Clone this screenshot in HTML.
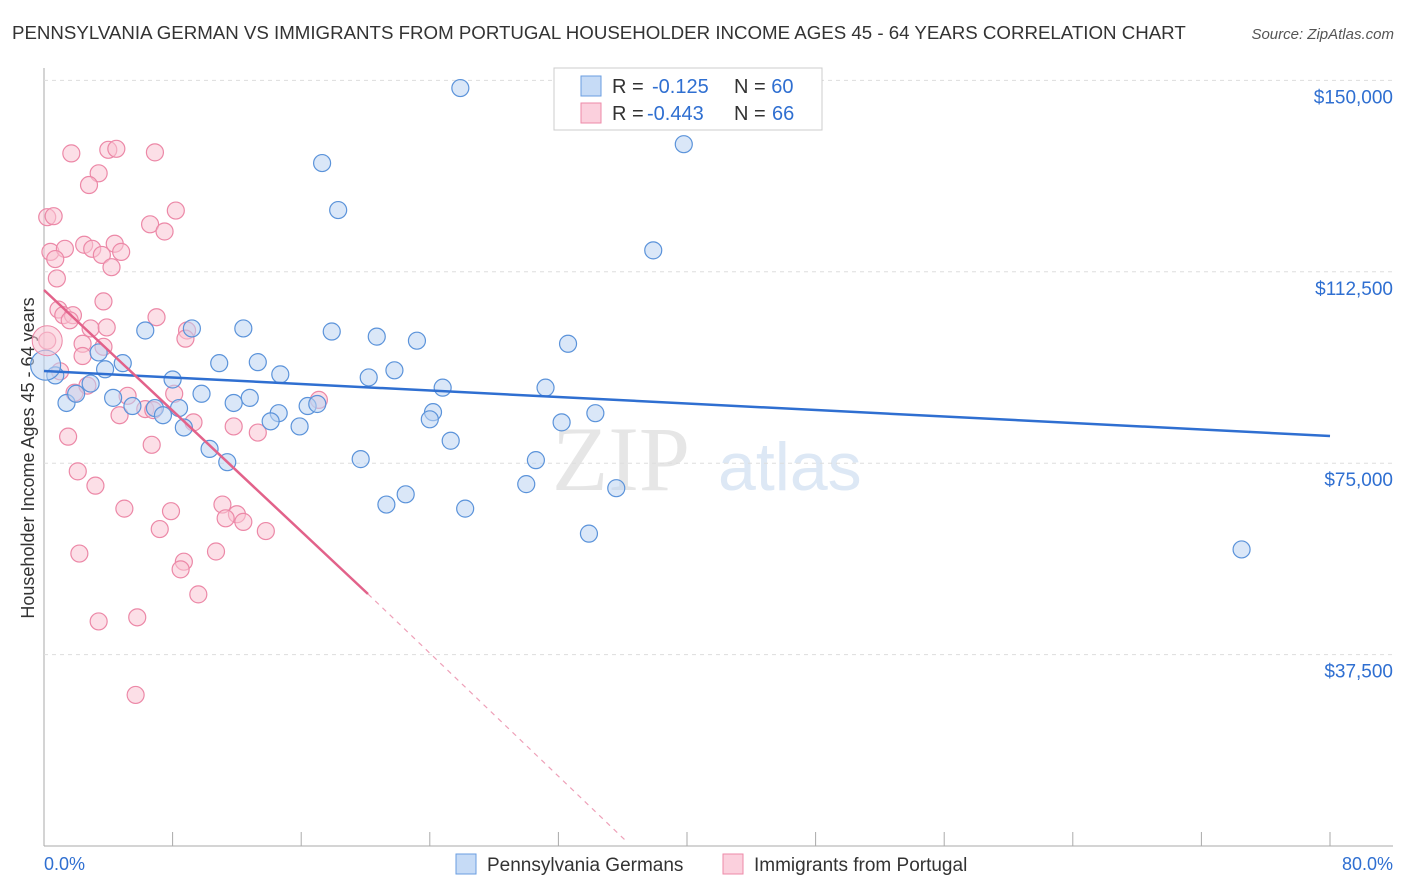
<!DOCTYPE html>
<html><head><meta charset="utf-8"><style>
body{margin:0;background:#fff;font-family:"Liberation Sans",sans-serif;}
svg{display:block}
</style></head><body>
<svg width="1406" height="892" id="chart">
<text x="12" y="39" font-size="18.7" fill="#333">PENNSYLVANIA GERMAN VS IMMIGRANTS FROM PORTUGAL HOUSEHOLDER INCOME AGES 45 - 64 YEARS CORRELATION CHART</text>
<text x="1394" y="39" font-size="15" fill="#555" font-style="italic" text-anchor="end">Source: ZipAtlas.com</text>
<text x="0" y="0" transform="translate(34,458) rotate(-90)" font-size="18" fill="#333" text-anchor="middle">Householder Income Ages 45 - 64 years</text>
<text x="552" y="490" font-size="92" fill="#e6e6e6" font-family="Liberation Serif,serif">ZIP</text>
<text x="718" y="490" font-size="68" fill="#dde8f5">atlas</text>
<g id="grid"></g><g id="marks"></g><g id="lines"></g>
<g>
<rect x="554" y="68" width="268" height="62" fill="#fff" stroke="#ccc"/>
<rect x="581" y="76" width="20" height="20" fill="#c6dbf6" stroke="#6a9ee0"/>
<rect x="581" y="103" width="20" height="20" fill="#fbd0dd" stroke="#ee8aa8"/>
<text x="612" y="93" font-size="20" fill="#333">R = <tspan x="652" fill="#2f6fd1">-0.125</tspan><tspan x="734">N = </tspan><tspan fill="#2f6fd1">60</tspan></text>
<text x="612" y="120" font-size="20" fill="#333">R = <tspan x="647" fill="#2f6fd1">-0.443</tspan><tspan x="734">N = </tspan><tspan x="772" fill="#2f6fd1">66</tspan></text>
</g>
<g>
<rect x="456" y="854" width="20" height="20" fill="#c6dbf6" stroke="#6a9ee0"/>
<text x="487" y="871" font-size="19" fill="#333">Pennsylvania Germans</text>
<rect x="723" y="854" width="20" height="20" fill="#fbd0dd" stroke="#ee8aa8"/>
<text x="754" y="871" font-size="19" fill="#333">Immigrants from Portugal</text>
</g>
<text x="44" y="870" font-size="18" fill="#2f6fd1">0.0%</text>
<text x="1393" y="870" font-size="18" fill="#2f6fd1" text-anchor="end">80.0%</text>
</svg>
<script>
const yTicks=[37500,75000,112500,150000];
const yTickLabels=["$37,500","$75,000","$112,500","$150,000"];
const xTicks=[0,8,16,24,32,40,48,56,64,72,80];
const blueX=[25.9,39.8,17.3,18.3,37.9,6.3,9.2,12.4,17.9,20.7,23.2,32.6,3.4,10.9,13.3,4.9,3.8,14.7,20.2,21.8,0.7,8.0,2.9,24.8,31.2,9.8,12.8,4.3,11.8,1.4,2.0,5.5,6.9,8.4,7.4,16.4,17.0,14.6,24.2,24.0,34.3,32.2,14.1,15.9,8.7,25.3,10.3,11.4,19.7,30.6,30.0,22.5,21.3,26.2,35.6,33.9,74.5,0.1];
const blueY=[148500,137500,133800,124600,116700,101000,101400,101400,100800,99800,99000,98400,96700,94600,94800,94600,93400,92400,91800,93200,92200,91400,90600,89800,89800,88600,87800,87800,86800,86800,88600,86200,85800,85800,84400,86200,86600,84800,85000,83600,84800,83000,83200,82200,82000,79400,77800,75200,75800,75600,70900,68900,66900,66100,70100,61200,58100,94200];
const pinkX=[0.2,0.6,1.7,4.0,4.5,6.9,3.4,2.8,8.2,6.6,7.5,0.4,1.3,2.5,3.0,4.4,4.8,0.7,3.6,4.2,0.8,3.7,0.9,1.2,1.8,1.6,7.0,2.9,3.9,8.9,8.8,2.4,3.7,2.4,0.2,1.0,1.9,2.7,5.2,8.1,4.7,6.3,6.8,9.3,11.8,13.3,17.1,1.5,6.7,2.1,3.2,5.0,11.1,12.0,7.9,7.2,12.4,13.8,11.3,2.2,8.7,10.7,8.5,9.6,3.4,5.8,5.7];
const pinkY=[123200,123400,135700,136400,136600,135900,131800,129500,124500,121800,120400,116400,117000,117800,117000,118000,116400,115000,115800,113400,111200,106700,105100,104000,104000,103000,103600,101400,101600,101000,99400,98400,97800,96000,99000,93000,88800,90200,88200,88600,84400,85600,85400,83000,82200,81000,87400,80200,78600,73400,70600,66100,66900,65000,65600,62100,63500,61700,64200,57300,55700,57700,54200,49300,44000,44800,29600];
const PX0=44,PXW=1286/80,PY0=846,PYS=191.4/37500;
const sx=v=>PX0+v*PXW, sy=v=>PY0-v*PYS;
const NS="http://www.w3.org/2000/svg";
const grid=document.getElementById('grid'),marks=document.getElementById('marks'),lines=document.getElementById('lines');
function mk(tag,a,parent){const e=document.createElementNS(NS,tag);for(const k in a)e.setAttribute(k,a[k]);parent.appendChild(e);return e;}
mk('line',{x1:44,y1:68,x2:44,y2:846,stroke:'#aaa'},grid);
mk('line',{x1:44,y1:846,x2:1393,y2:846,stroke:'#aaa'},grid);
yTicks.forEach((t,i)=>{
 const g=mk('line',{x1:44,x2:1393,y1:sy(t),y2:sy(t),stroke:'#ddd','stroke-dasharray':'4,4'},grid);
 
 
 const l=mk('text',{x:1393,y:sy(t)+23,'font-size':19,fill:'#2f6fd1','text-anchor':'end'},grid);
 l.textContent=yTickLabels[i];
 
 
});
xTicks.forEach(t=>{
 const k=mk('line',{x1:sx(t),x2:sx(t),y1:832,y2:846,stroke:'#aaa'},grid);
 
 
});
function dots(X,Y,fill,stroke,name){X.forEach((x,i)=>{
 const big=(X===blueX&&i===X.length-1);
 const c=mk('circle',{cx:sx(x),cy:sy(Y[i]),r:big?15:8.5,fill:fill,'fill-opacity':0.55,stroke:stroke,'stroke-width':1.2},marks);
 
 
});}
dots(pinkX,pinkY,'#f9c4d3','#ec88a7','pink-point');
dots(blueX,blueY,'#bcd4f3','#5b93da','blue-point');
const big2=mk('circle',{cx:sx(0.2),cy:sy(99000),r:15,fill:'#f9c4d3','fill-opacity':0.55,stroke:'#ec88a7'},marks);


let a=mk('line',{x1:44,y1:371,x2:1330,y2:436,stroke:'#2f6fd1','stroke-width':2.5},lines);


let b=mk('line',{x1:44,y1:290,x2:368,y2:594,stroke:'#e2628a','stroke-width':2.5},lines);


let c=mk('line',{x1:368,y1:594,x2:625,y2:840,stroke:'#eea0b8','stroke-width':1.2,'stroke-dasharray':'5,5'},lines);


</script>
</body></html>
